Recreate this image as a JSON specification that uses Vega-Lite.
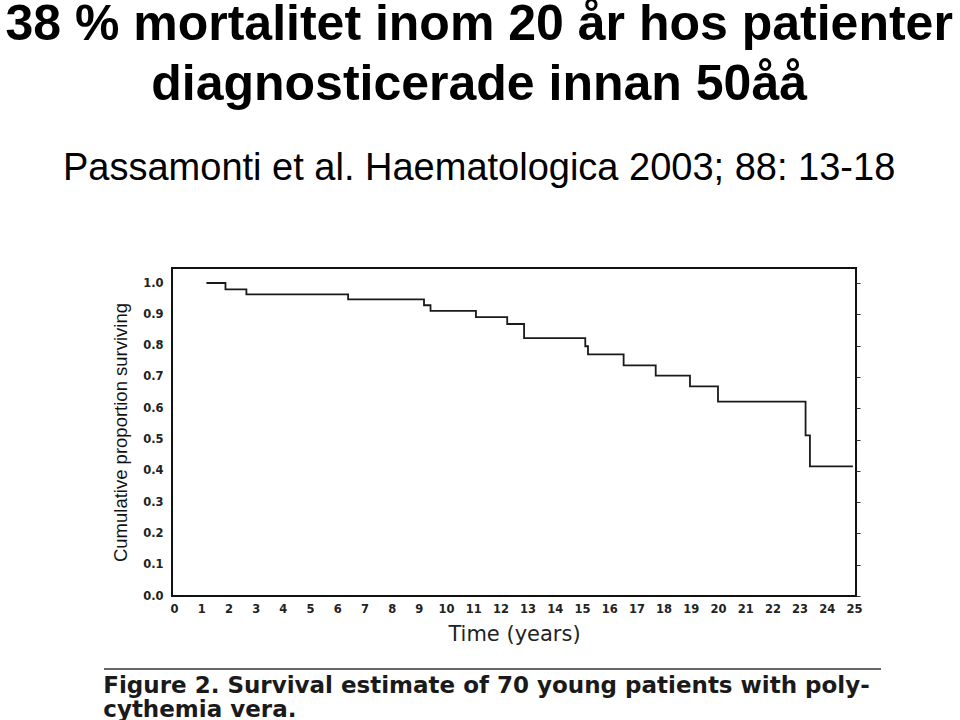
{
  "$schema": "https://vega.github.io/schema/vega-lite/v6.json",
  "background": "white",
  "padding": {"left": 5, "top": 0, "right": 0, "bottom": 0},
  "config": {"view": {"stroke": null}, "font": "Liberation Sans"},
  "title": {
    "text": ["38 % mortalitet inom 20 år hos patienter", "diagnosticerade innan 50åå"],
    "subtitle": "Passamonti et al. Haematologica 2003; 88: 13-18",
    "anchor": "middle",
    "font": "Liberation Sans",
    "fontSize": 50,
    "fontWeight": "bold",
    "lineHeight": 60,
    "color": "black",
    "subtitleFont": "Liberation Sans",
    "subtitleFontSize": 38,
    "subtitleColor": "black",
    "subtitlePadding": 40,
    "offset": 79,
    "baseline": "top",
    "dx": -38
  },
  "center": true,
  "spacing": 20,
  "vconcat": [
    {
      "width": 684,
      "height": 328,
      "view": {"stroke": "#111", "strokeWidth": 2},
      "data": {
        "values": [
          {"time": 1.19, "surv": 1.0},
          {"time": 1.89, "surv": 0.98},
          {"time": 2.66, "surv": 0.964},
          {"time": 6.4, "surv": 0.948},
          {"time": 9.19, "surv": 0.929},
          {"time": 9.43, "surv": 0.911},
          {"time": 11.1, "surv": 0.891},
          {"time": 12.25, "surv": 0.869},
          {"time": 12.87, "surv": 0.824},
          {"time": 15.12, "surv": 0.798},
          {"time": 15.22, "surv": 0.772},
          {"time": 16.53, "surv": 0.737},
          {"time": 17.71, "surv": 0.704},
          {"time": 18.97, "surv": 0.67},
          {"time": 20.0, "surv": 0.621},
          {"time": 23.22, "surv": 0.513},
          {"time": 23.38, "surv": 0.414},
          {"time": 24.96, "surv": 0.414}
        ]
      },
      "layer": [
        {
          "mark": {"type": "line", "interpolate": "step-after", "color": "#1a1a1a", "strokeWidth": 1.8},
          "encoding": {
            "x": {
              "field": "time",
              "type": "quantitative",
              "scale": {"domain": [-0.075, 25.075], "nice": false, "zero": false},
              "axis": {
                "title": "Time (years)",
                "values": [0,1,2,3,4,5,6,7,8,9,10,11,12,13,14,15,16,17,18,19,20,21,22,23,24,25],
                "format": "d",
                "labelOverlap": false,
                "domain": false,
                "grid": false,
                "ticks": false,
                "labelFont": "DejaVu Sans",
                "labelFontWeight": "bold",
                "labelFontSize": 11.5,
                "labelColor": "#222",
                "labelPadding": 7,
                "titleFont": "DejaVu Sans",
                "titleFontSize": 21,
                "titleFontWeight": "normal",
                "titleColor": "#222",
                "titlePadding": 9
              }
            },
            "y": {
              "field": "surv",
              "type": "quantitative",
              "scale": {"domain": [0, 1.048], "nice": false},
              "axis": {
                "title": "Cumulative proportion surviving",
                "values": [0,0.1,0.2,0.3,0.4,0.5,0.6,0.7,0.8,0.9,1.0],
                "format": ".1f",
                "labelOverlap": false,
                "domain": false,
                "grid": false,
                "ticks": false,
                "labelFont": "DejaVu Sans",
                "labelFontWeight": "bold",
                "labelFontSize": 11.5,
                "labelColor": "#222",
                "labelPadding": 9,
                "titleFont": "Liberation Sans",
                "titleFontSize": 18.5,
                "titleFontWeight": "normal",
                "titleColor": "#111",
                "titlePadding": 12
              }
            }
          }
        },
        {
          "mark": {"type": "line", "strokeOpacity": 0},
          "encoding": {
            "x": {"field": "time", "type": "quantitative", "axis": null},
            "y": {
              "field": "surv",
              "type": "quantitative",
              "axis": {
                "orient": "right",
                "title": null,
                "labels": false,
                "domain": false,
                "grid": false,
                "ticks": true,
                "tickSize": 4,
                "tickColor": "#333",
                "values": [0,0.1,0.2,0.3,0.4,0.5,0.6,0.7,0.8,0.9,1.0]
              }
            }
          }
        }
      ],
      "resolve": {"axis": {"x": "independent", "y": "independent"}}
    },
    {
      "spacing": 0,
      "hconcat": [
        {
          "width": 777,
          "height": 2,
          "data": {"values": [{"a": 0}]},
          "mark": {"type": "rule", "color": "#333", "strokeWidth": 1.5},
          "encoding": {"y": {"field": "a", "type": "quantitative", "axis": null}},
          "title": {
            "text": ["Figure 2. Survival estimate of 70 young patients with poly-", "cythemia vera."],
            "orient": "bottom",
            "anchor": "start",
            "font": "DejaVu Sans",
            "fontSize": 23,
            "fontWeight": "bold",
            "lineHeight": 23.5,
            "color": "#1a1a1a",
            "baseline": "top",
            "offset": 5
          }
        },
        {
          "width": 49,
          "height": 2,
          "data": {"values": [{"a": 0}]},
          "mark": {"type": "point", "opacity": 0},
          "encoding": {}
        }
      ]
    }
  ]
}
